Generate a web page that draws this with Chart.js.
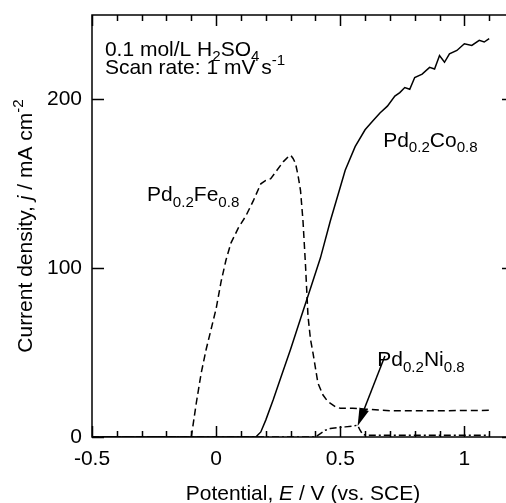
<!DOCTYPE html>
<html>
<head>
<meta charset="utf-8">
<script src="https://cdn.jsdelivr.net/npm/chart.js@4.4.1/dist/chart.umd.min.js"></script>
<style>
  html, body { margin: 0; padding: 0; background: #fff; overflow: hidden; }
  canvas { display: block; }
</style>
</head>
<body>
<canvas id="chart" width="520" height="503"></canvas>
<script>
// --- DADOS ---
const coX = [-0.5, 0.16, 0.18, 0.20, 0.23, 0.26, 0.30, 0.34, 0.38, 0.42, 0.46, 0.50, 0.52, 0.56, 0.60, 0.63, 0.66, 0.69, 0.72, 0.74, 0.76, 0.78, 0.80, 0.83, 0.86, 0.88, 0.90, 0.92, 0.94, 0.97, 1.00, 1.03, 1.06, 1.08, 1.10];
const coY = [0, 0, 3, 10, 22, 35, 52, 70, 88, 106, 128, 148, 158, 172, 182, 187, 192, 196, 202, 204, 207, 206, 213, 215, 219, 218, 226, 222, 227, 229, 233, 232, 235, 234, 236];

const feX = [-0.5, -0.10, -0.08, -0.06, -0.04, -0.02, 0.00, 0.02, 0.04, 0.06, 0.09, 0.12, 0.15, 0.18, 0.20, 0.22, 0.24, 0.27, 0.29, 0.30, 0.31, 0.32, 0.33, 0.34, 0.35, 0.36, 0.37, 0.38, 0.39, 0.41, 0.43, 0.45, 0.48, 0.50, 0.55, 0.60, 0.70, 0.80, 0.90, 1.00, 1.10];
const feY = [0, 0, 20, 38, 52, 64, 76, 92, 105, 115, 124, 131, 140, 150, 152, 153, 157, 163, 166, 167, 165, 162, 155, 146, 128, 102, 72, 58, 50, 32, 25, 21, 18, 17, 17, 16.5, 15.5, 15.5, 15.5, 15.7, 15.8];

const niX = [-0.5, 0.40, 0.42, 0.44, 0.46, 0.49, 0.52, 0.55, 0.57, 0.58, 0.59, 0.61, 0.70, 0.80, 0.90, 1.00, 1.10];
const niY = [0, 0, 2, 4, 5, 5.5, 6, 6.5, 7, 4, 1.5, 1, 1, 1, 1, 1, 1];

const xMajor = [-0.5, 0, 0.5, 1];
const xMinor = [-0.4, -0.3, -0.2, -0.1, 0.1, 0.2, 0.3, 0.4, 0.6, 0.7, 0.8, 0.9, 1.1];
const yMajor = [0, 100, 200];

const FONT = '"Liberation Sans", Arial, sans-serif';
const SIZE = 21;

const toPoints = (xs, ys) => xs.map((x, i) => ({ x: x, y: ys[i] }));

// texto com subscrito / sobrescrito / itálico
function richWidth(ctx, segs) {
    let w = 0;
    segs.forEach(s => {
        const sz = (s.k === 'sub' || s.k === 'sup') ? SIZE * 0.72 : SIZE;
        ctx.font = (s.k === 'i' ? 'italic ' : '') + sz + 'px ' + FONT;
        w += ctx.measureText(s.t).width;
    });
    return w;
}

function drawRich(ctx, x, y, segs) {
    let cx = x;
    ctx.textBaseline = 'alphabetic';
    ctx.textAlign = 'left';
    segs.forEach(s => {
        let sz = SIZE, dy = 0;
        if (s.k === 'sub') { sz = SIZE * 0.72; dy = SIZE * 0.27; }
        if (s.k === 'sup') { sz = SIZE * 0.72; dy = -SIZE * 0.42; }
        ctx.font = (s.k === 'i' ? 'italic ' : '') + sz + 'px ' + FONT;
        ctx.fillText(s.t, cx, y + dy);
        cx += ctx.measureText(s.t).width;
    });
}

const alloy = (a, b) => [
    { t: 'Pd' }, { t: '0.2', k: 'sub' }, { t: a }, { t: b, k: 'sub' }
];

// --- PLUGIN: moldura, ticks internos, rótulos e seta ---
const decorations = {
    id: 'decorations',
    afterDraw(chart) {
        const ctx = chart.ctx;
        const area = chart.chartArea;
        const xs = chart.scales.x;
        const ys = chart.scales.y;
        ctx.save();
        ctx.strokeStyle = '#000';
        ctx.fillStyle = '#000';
        ctx.lineWidth = 1.5;

        // moldura
        ctx.beginPath();
        ctx.moveTo(area.left, area.top);
        ctx.lineTo(area.left, area.bottom);
        ctx.lineTo(area.right, area.bottom);
        ctx.lineTo(area.right, area.top);
        ctx.closePath();
        ctx.stroke();

        // ticks do eixo x (em baixo e em cima)
        ctx.beginPath();
        xMajor.concat(xMinor).forEach(v => {
            const px = Math.round(xs.getPixelForValue(v)) + 0.5;
            const len = xMajor.includes(v) ? 11 : 6;
            ctx.moveTo(px, area.bottom);
            ctx.lineTo(px, area.bottom - len);
            ctx.moveTo(px, area.top);
            ctx.lineTo(px, area.top + len);
        });
        // ticks do eixo y
        yMajor.forEach(v => {
            const py = Math.round(ys.getPixelForValue(v)) + 0.5;
            ctx.moveTo(area.left, py);
            ctx.lineTo(area.left + 12, py);
            ctx.moveTo(area.right, py);
            ctx.lineTo(area.right - 12, py);
        });
        ctx.stroke();

        // condições
        drawRich(ctx, xs.getPixelForValue(-0.448), ys.getPixelForValue(226), [
            { t: '0.1 mol/L H' }, { t: '2', k: 'sub' }, { t: 'SO' }, { t: '4', k: 'sub' }
        ]);
        drawRich(ctx, xs.getPixelForValue(-0.448), ys.getPixelForValue(215), [
            { t: 'Scan rate: 1 mV s' }, { t: '-1', k: 'sup' }
        ]);

        // nomes das curvas
        drawRich(ctx, xs.getPixelForValue(0.673), ys.getPixelForValue(172), alloy('Co', '0.8'));
        drawRich(ctx, xs.getPixelForValue(-0.278), ys.getPixelForValue(139.6), alloy('Fe', '0.8'));
        drawRich(ctx, xs.getPixelForValue(0.649), ys.getPixelForValue(42), alloy('Ni', '0.8'));

        // seta do Ni
        const x0 = xs.getPixelForValue(0.68), y0 = ys.getPixelForValue(48);
        const x1 = xs.getPixelForValue(0.57), y1 = ys.getPixelForValue(6.5);
        const ang = Math.atan2(y1 - y0, x1 - x0);
        const head = 18, half = 5;
        const bx = x1 - head * Math.cos(ang), by = y1 - head * Math.sin(ang);
        ctx.lineWidth = 1.5;
        ctx.beginPath();
        ctx.moveTo(x0, y0);
        ctx.lineTo(bx, by);
        ctx.stroke();
        ctx.beginPath();
        ctx.moveTo(x1, y1);
        ctx.lineTo(bx + half * Math.sin(ang), by - half * Math.cos(ang));
        ctx.lineTo(bx - half * Math.sin(ang), by + half * Math.cos(ang));
        ctx.closePath();
        ctx.fill();

        // título do eixo x
        const xt = [{ t: 'Potential, ' }, { t: 'E', k: 'i' }, { t: ' / V (vs. SCE)' }];
        const xw = richWidth(ctx, xt);
        drawRich(ctx, (area.left + area.right) / 2 - xw / 2, 500, xt);

        // título do eixo y
        const yt = [{ t: 'Current density, ' }, { t: 'j', k: 'i' }, { t: ' / mA cm' }, { t: '-2', k: 'sup' }];
        const yw = richWidth(ctx, yt);
        ctx.translate(32, (area.top + area.bottom) / 2);
        ctx.rotate(-Math.PI / 2);
        drawRich(ctx, -yw / 2, 0, yt);
        ctx.restore();
    }
};

const lineSet = (label, xs, ys, dash) => ({
    label: label,
    data: toPoints(xs, ys),
    showLine: true,
    borderColor: '#000',
    borderWidth: 1.5,
    borderDash: dash,
    pointRadius: 0,
    fill: false,
    tension: 0
});

new Chart(document.getElementById('chart'), {
    type: 'scatter',
    data: {
        datasets: [
            lineSet('Pd0.2Co0.8', coX, coY, []),
            lineSet('Pd0.2Fe0.8', feX, feY, [7, 4]),
            lineSet('Pd0.2Ni0.8', niX, niY, [7, 3, 2, 3])
        ]
    },
    options: {
        responsive: false,
        animation: false,
        layout: { padding: { top: 15, right: 6, left: 0, bottom: 0 } },
        plugins: { legend: { display: false }, tooltip: { enabled: false } },
        scales: {
            x: {
                type: 'linear',
                min: -0.5,
                max: 1.2,
                afterBuildTicks: s => { s.ticks = xMajor.map(v => ({ value: v })); },
                afterFit: s => { s.height = 66; s.paddingLeft = 0; s.paddingRight = 0; },
                grid: { display: false, drawTicks: false },
                border: { display: false },
                ticks: {
                    color: '#000',
                    padding: 10,
                    maxRotation: 0,
                    font: { family: FONT, size: SIZE },
                    callback: v => String(v)
                }
            },
            y: {
                type: 'linear',
                min: 0,
                max: 250,
                afterBuildTicks: s => { s.ticks = yMajor.map(v => ({ value: v })); },
                afterFit: s => { s.width = 92; s.paddingTop = 0; s.paddingBottom = 0; },
                grid: { display: false, drawTicks: false },
                border: { display: false },
                ticks: {
                    color: '#000',
                    padding: 10,
                    font: { family: FONT, size: SIZE },
                    callback: v => String(v)
                }
            }
        }
    },
    plugins: [decorations]
});
</script>
</body>
</html>
